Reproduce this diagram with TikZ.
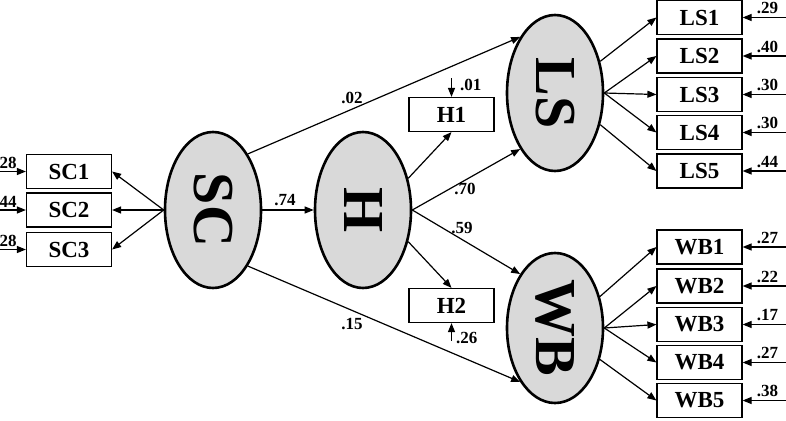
\documentclass[tikz,border=0pt]{standalone}
\usepackage{fontspec}
\setmainfont{Liberation Serif}
\usetikzlibrary{shapes.geometric,arrows.meta}
\begin{document}
\begin{tikzpicture}[x=1pt,y=-1pt,
  lat/.style={draw,ellipse,line width=2.6pt,fill=gray!30,minimum width=96pt,minimum height=156pt,inner sep=0pt,font=\fontsize{58}{58}\selectfont\bfseries},
  obs/.style={draw,line width=1.2pt,minimum width=85pt,minimum height=34pt,inner sep=0pt,font=\fontsize{23}{23}\selectfont\bfseries},
  arr/.style={-{Triangle[length=9pt,width=7pt]},line width=1.2pt},
  rarr/.style={{Triangle[length=9pt,width=7pt]}-,line width=1.2pt},
  coef/.style={font=\fontsize{17}{17}\selectfont\bfseries,inner sep=0pt}]
  \useasboundingbox (0,0) rectangle (786,420);
  \node[lat] (SC) at (213,210) {\rotatebox{-90}{SC}};
  \node[lat] (H) at (363,210) {\rotatebox{-90}{H}};
  \node[lat] (LS) at (555,93) {\rotatebox{-90}{LS}};
  \node[lat,minimum height=150pt] (WB) at (555,328) {\rotatebox{-90}{WB}};
  \node[obs] (H1) at (451.5,114.5) {H1};
  \node[obs] (H2) at (451.5,305.5) {H2};
  \foreach \n/\y/\e in {1/171.5/28,2/210/44,3/249.5/28} {
    \node[obs] (SC\n) at (69,\y) {SC\n};
    \draw[arr] (SC.west) -- (SC\n.east);
    \draw[rarr] (SC\n.west) -- ++(-27,0) node[coef,anchor=south west,yshift=2pt] {\e};
  }
  \foreach \n/\y/\e in {1/17.5/.29,2/56/.40,3/94.5/.30,4/132.5/.30,5/171/.44}
    \draw[rarr] (699.5,\y) node[obs] (LS\n) {LS\n} (LS\n.east) -- ++(44,0) node[coef,anchor=south east,xshift=-8pt,yshift=3pt] {\e};
  \foreach \n/\y/\e in {1/247/.27,2/286/.22,3/324.5/.17,4/362.5/.27,5/400.5/.38}
    \draw[rarr] (699.5,\y) node[obs] (WB\n) {WB\n} (WB\n.east) -- ++(44,0) node[coef,anchor=south east,xshift=-8pt,yshift=3pt] {\e};
  \draw[arr] (LS.35) -- (LS1.west);
  \draw[arr] (WB.35) -- (WB1.west);
  \foreach \n in {2,3,4} {
    \draw[arr] (LS.east) -- (LS\n.west);
    \draw[arr] (WB.east) -- (WB\n.west);
  }
  \draw[arr] (LS.-35) -- (LS5.west);
  \draw[arr] (WB.-35) -- (WB5.west);
  \draw[arr] (SC.north east) -- (LS.north west);
  \draw[arr] (SC.east) -- (H.west);
  \draw[arr] (SC.south east) -- (WB.south west);
  \draw[arr] (H.35) -- (H1.south);
  \draw[arr] (H.east) -- (LS.south west);
  \draw[arr] (H.east) -- (WB.north west);
  \draw[arr] (H.-35) -- (H2.north);
  \draw[rarr] (H1.north) -- ++(0,-19) node[coef,anchor=north west,xshift=8pt,yshift=-1pt] {.01};
  \draw[rarr] (H2.south) -- ++(0,18) node[coef,anchor=south west,xshift=4pt,yshift=-3pt] {.26};
  \node[coef] (c02) at (352,97.5) {.02};
  \node[coef] (c74) at (285,200.5) {.74};
  \node[coef] (c70) at (465,189) {.70};
  \node[coef] (c59) at (462,228) {.59};
  \node[coef] (c15) at (352,324) {.15};
\end{tikzpicture}
\end{document}
